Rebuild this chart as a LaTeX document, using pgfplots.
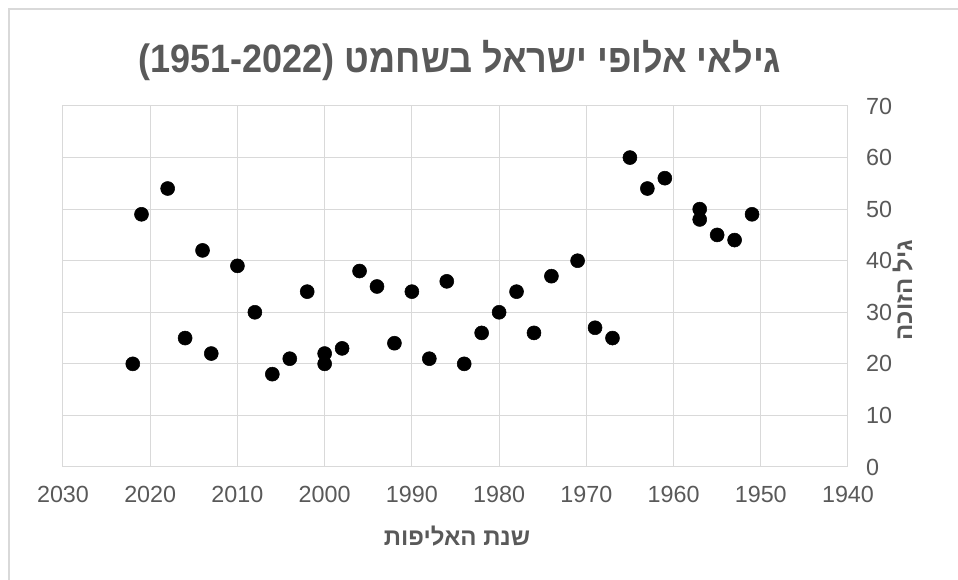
\documentclass[border=0pt]{standalone}
\usepackage{pgfplots}
\pgfplotsset{compat=1.18}
\usepackage{fontspec}
\setmainfont{Liberation Sans}
\newfontfamily\hebrewfont[Script=Hebrew]{Liberation Sans}
\TeXXeTstate=1
\definecolor{txtgray}{HTML}{595959}
\definecolor{gridgray}{HTML}{D9D9D9}
\begin{document}
\begin{tikzpicture}
\useasboundingbox (0pt,0pt) rectangle (718.5pt,-435pt);
\draw[gridgray, line width=1.5pt] (6.75pt,-445pt) -- (6.75pt,-6.75pt) -- (725pt,-6.75pt);
\begin{axis}[
  at={(47.25pt,-79.5pt)}, anchor=north west,
  scale only axis, width=588.75pt, height=270.75pt,
  xmin=1940, xmax=2030, x dir=reverse,
  ymin=0, ymax=70,
  xtick={1940,1950,...,2030}, ytick={0,10,...,70},
  grid=major,
  major grid style={gridgray, line width=0.75pt},
  axis line style={gridgray, line width=0.75pt},
  major tick length=0pt,
  yticklabel pos=right,
  ticklabel style={font=\fontsize{17.5}{19}\selectfont, text=txtgray},
  xticklabel style={yshift=-11pt},
  yticklabel style={xshift=10pt},
  /pgf/number format/assume math mode=true,
  /pgf/number format/1000 sep={},
  clip=false,
]
\addplot[only marks, mark=*, mark size=5.25pt, black] table[row sep=\\] {
x y\\
2022 20\\
2021 49\\
2018 54\\
2016 25\\
2014 42\\
2013 22\\
2010 39\\
2008 30\\
2006 18\\
2004 21\\
2002 34\\
2000 22\\
2000 20\\
1998 23\\
1996 38\\
1994 35\\
1992 24\\
1990 34\\
1988 21\\
1986 36\\
1984 20\\
1982 26\\
1980 30\\
1978 34\\
1976 26\\
1974 37\\
1971 40\\
1969 27\\
1967 25\\
1965 60\\
1963 54\\
1961 56\\
1957 50\\
1957 48\\
1955 45\\
1953 44\\
1951 49\\
};
\end{axis}
\node[anchor=base, text=txtgray, font=\bfseries\fontsize{27}{30}\selectfont, yscale=1.1] at (345pt,-54.75pt)
  {(1951-2022) {\hebrewfont\beginR גילאי אלופי ישראל בשחמט\endR}};
\node[anchor=base, text=txtgray, font=\bfseries\fontsize{18}{20}\selectfont] at (342.75pt,-409.5pt)
  {\hebrewfont\beginR שנת האליפות\endR};
\node[rotate=90, text=txtgray, font=\bfseries\fontsize{18}{20}\selectfont] at (677pt,-217.5pt)
  {\hebrewfont\beginR גיל הזוכה\endR};
\end{tikzpicture}
\end{document}
